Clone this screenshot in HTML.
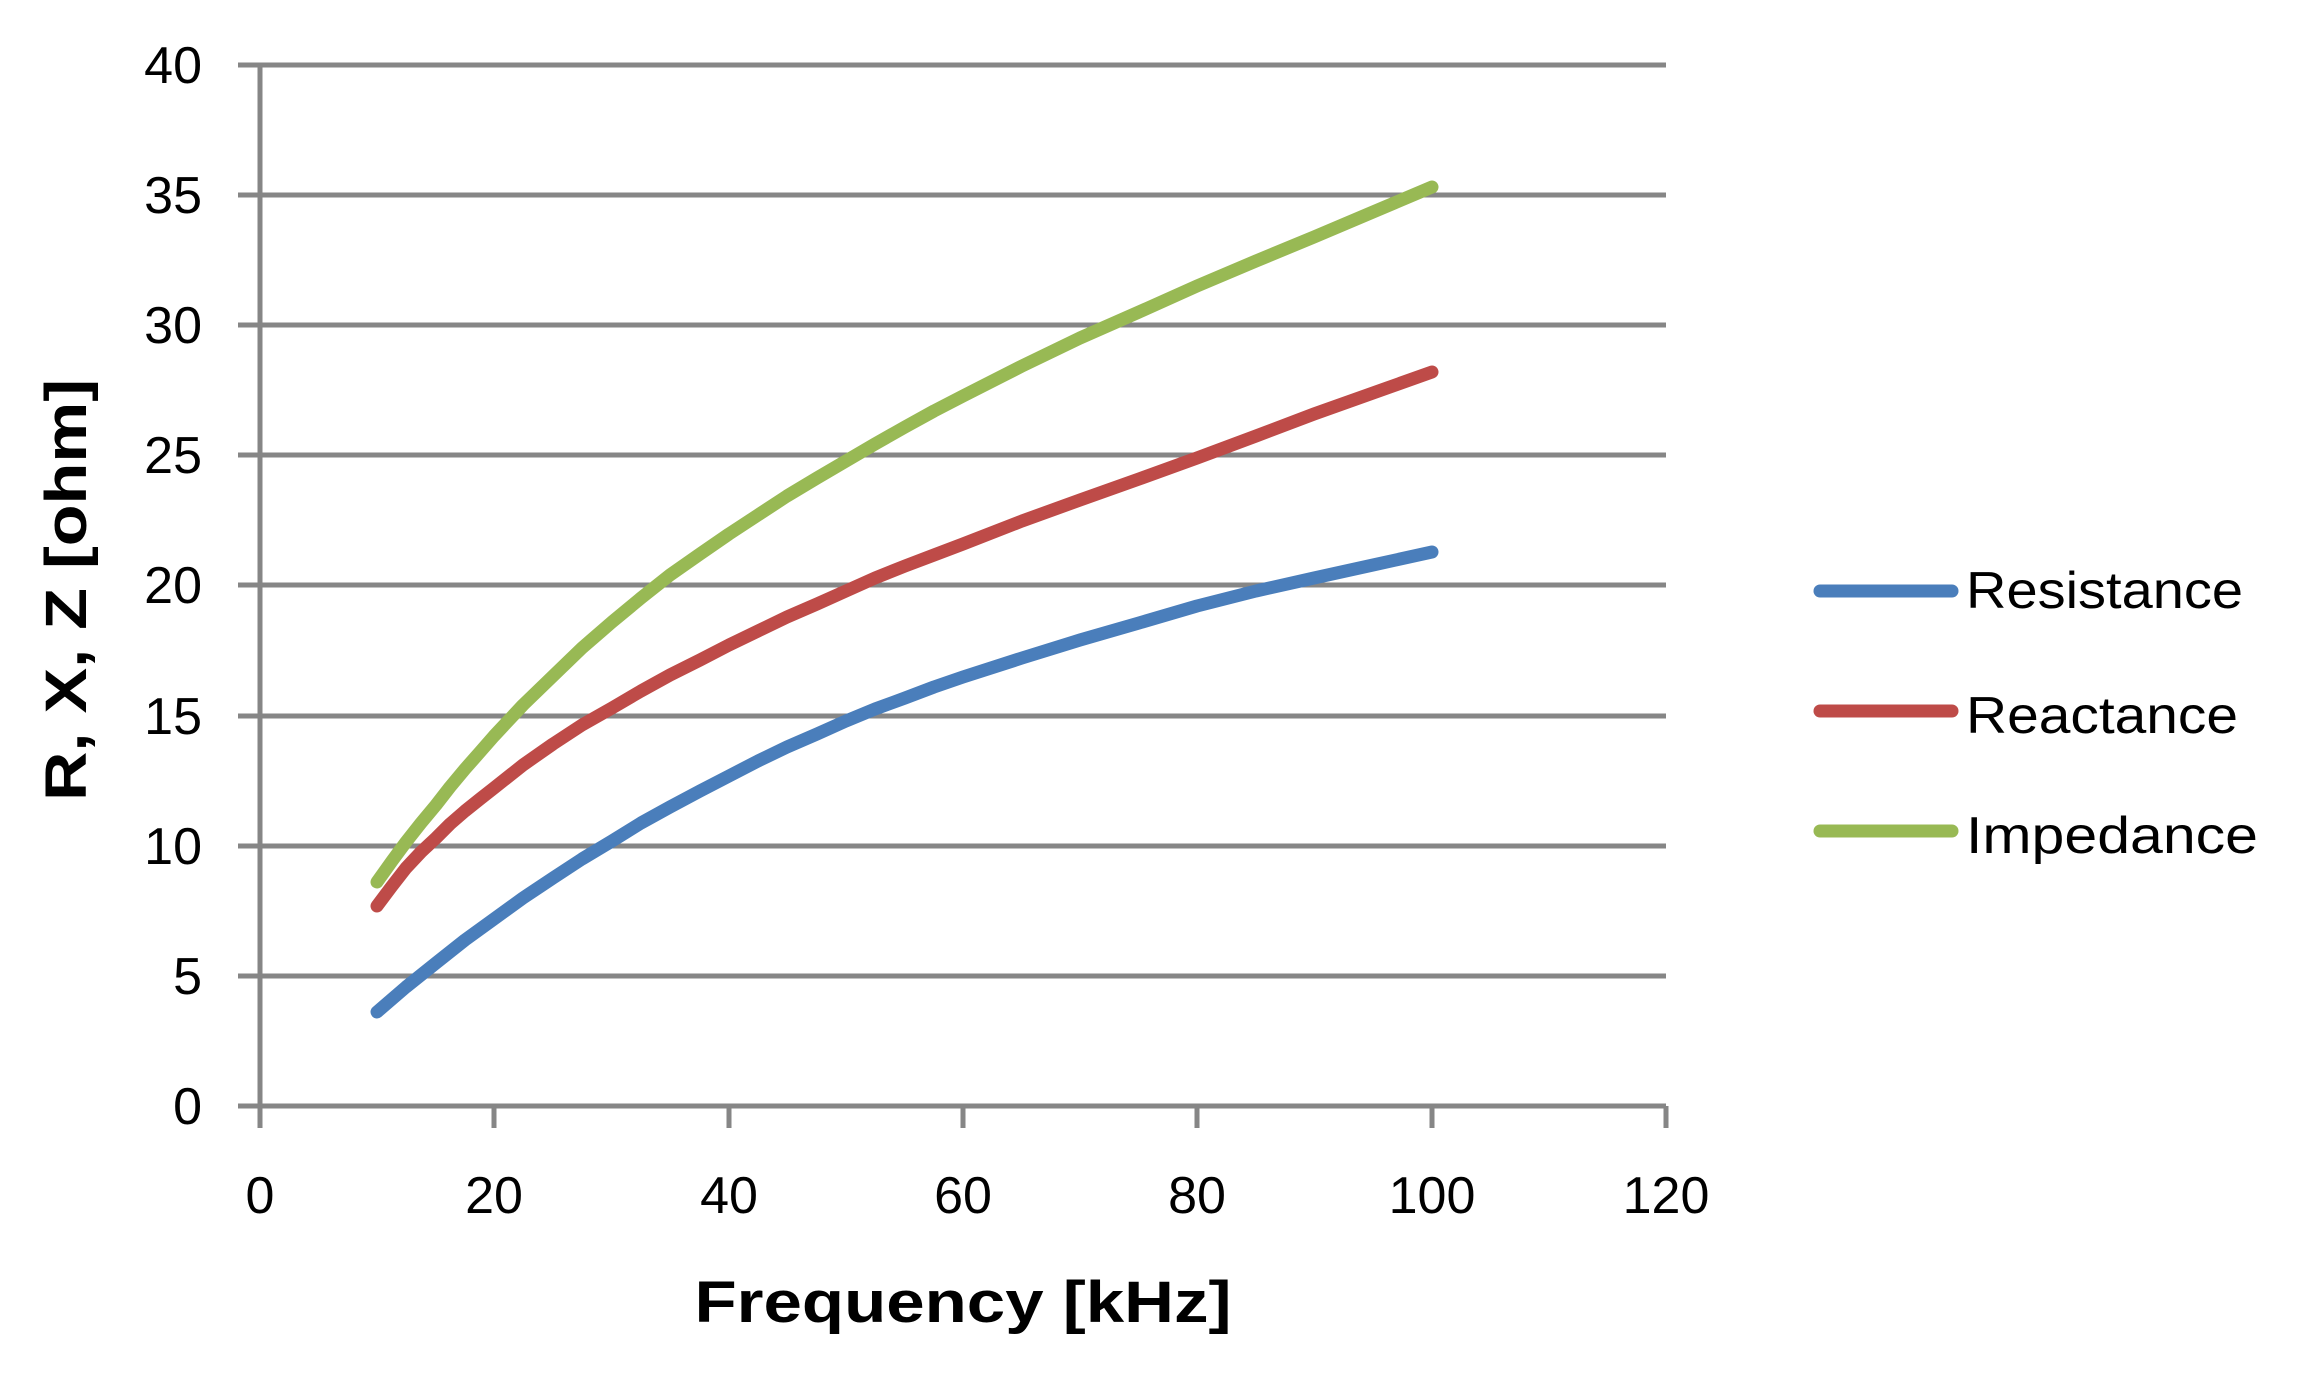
<!DOCTYPE html>
<html><head><meta charset="utf-8"><style>html,body{margin:0;padding:0;background:#fff;}svg{display:block}</style></head>
<body>
<svg width="2305" height="1380" viewBox="0 0 2305 1380" xmlns="http://www.w3.org/2000/svg" font-family="'Liberation Sans', sans-serif">
<g stroke="#868686" stroke-width="5">
<line x1="238" y1="65" x2="1666" y2="65"/>
<line x1="238" y1="195" x2="1666" y2="195"/>
<line x1="238" y1="325" x2="1666" y2="325"/>
<line x1="238" y1="455" x2="1666" y2="455"/>
<line x1="238" y1="585" x2="1666" y2="585"/>
<line x1="238" y1="716" x2="1666" y2="716"/>
<line x1="238" y1="846" x2="1666" y2="846"/>
<line x1="238" y1="976" x2="1666" y2="976"/>
<line x1="238" y1="1106" x2="1666" y2="1106"/>
<line x1="260" y1="65" x2="260" y2="1128"/>
<line x1="494" y1="1106" x2="494" y2="1128"/>
<line x1="729" y1="1106" x2="729" y2="1128"/>
<line x1="963" y1="1106" x2="963" y2="1128"/>
<line x1="1197" y1="1106" x2="1197" y2="1128"/>
<line x1="1432" y1="1106" x2="1432" y2="1128"/>
<line x1="1666" y1="1106" x2="1666" y2="1128"/>
</g>
<g font-size="52" fill="#000" text-anchor="end">
<text x="202" y="83">40</text><text x="202" y="213">35</text><text x="202" y="343">30</text>
<text x="202" y="473">25</text><text x="202" y="603">20</text><text x="202" y="734">15</text>
<text x="202" y="864">10</text><text x="202" y="994">5</text><text x="202" y="1124">0</text>
</g>
<g font-size="52" fill="#000" text-anchor="middle">
<text x="260" y="1213">0</text><text x="494" y="1213">20</text><text x="729" y="1213">40</text>
<text x="963" y="1213">60</text><text x="1197" y="1213">80</text><text x="1432" y="1213">100</text>
<text x="1666" y="1213">120</text>
</g>
<text x="963" y="1322" font-size="58" font-weight="bold" text-anchor="middle" textLength="537" lengthAdjust="spacingAndGlyphs">Frequency [kHz]</text>
<text transform="translate(86,590) rotate(-90)" font-size="58" font-weight="bold" text-anchor="middle" textLength="422" lengthAdjust="spacingAndGlyphs">R, X, Z [ohm]</text>
<g fill="none" stroke-width="13" stroke-linecap="round" stroke-linejoin="round">
<polyline stroke="#4a7ebb" points="377,1012 406,987 436,963 465,940 494,919 523,898 553,878 582,859 612,841 641,823 670,807 700,791 729,776 758,761 787,747 817,734 846,721 875,709 905,698 934,687 963,677 1022,658 1080,640 1139,623 1197,606 1256,591 1314,578 1373,565 1432,552"/>
<polyline stroke="#be4b48" points="377,906 392,886 406,868 421,852 436,838 450,824 465,811 480,799 494,788 523,765 553,744 582,725 612,708 641,691 670,675 700,660 729,645 758,631 787,617 817,604 846,591 875,578 905,566 934,555 963,544 1022,521 1080,500 1139,479 1197,458 1256,436 1314,414 1373,393 1432,372"/>
<polyline stroke="#98b954" points="377,882 392,861 406,842 421,823 436,805 450,787 465,769 480,752 494,736 523,705 553,676 582,648 612,622 641,598 670,575 700,554 729,534 758,515 787,496 817,478 846,461 875,444 905,427 934,411 963,396 1022,366 1080,338 1139,312 1197,286 1256,261 1314,237 1373,212 1432,187"/>
</g>
<g stroke-width="13" stroke-linecap="round">
<line x1="1820" y1="591" x2="1952" y2="591" stroke="#4a7ebb"/>
<line x1="1820" y1="711" x2="1952" y2="711" stroke="#be4b48"/>
<line x1="1820" y1="831" x2="1952" y2="831" stroke="#98b954"/>
</g>
<g font-size="52" fill="#000">
<text x="1966" y="608" textLength="277" lengthAdjust="spacingAndGlyphs">Resistance</text>
<text x="1966" y="733" textLength="272" lengthAdjust="spacingAndGlyphs">Reactance</text>
<text x="1966" y="853" textLength="292" lengthAdjust="spacingAndGlyphs">Impedance</text>
</g>
</svg>
</body></html>
